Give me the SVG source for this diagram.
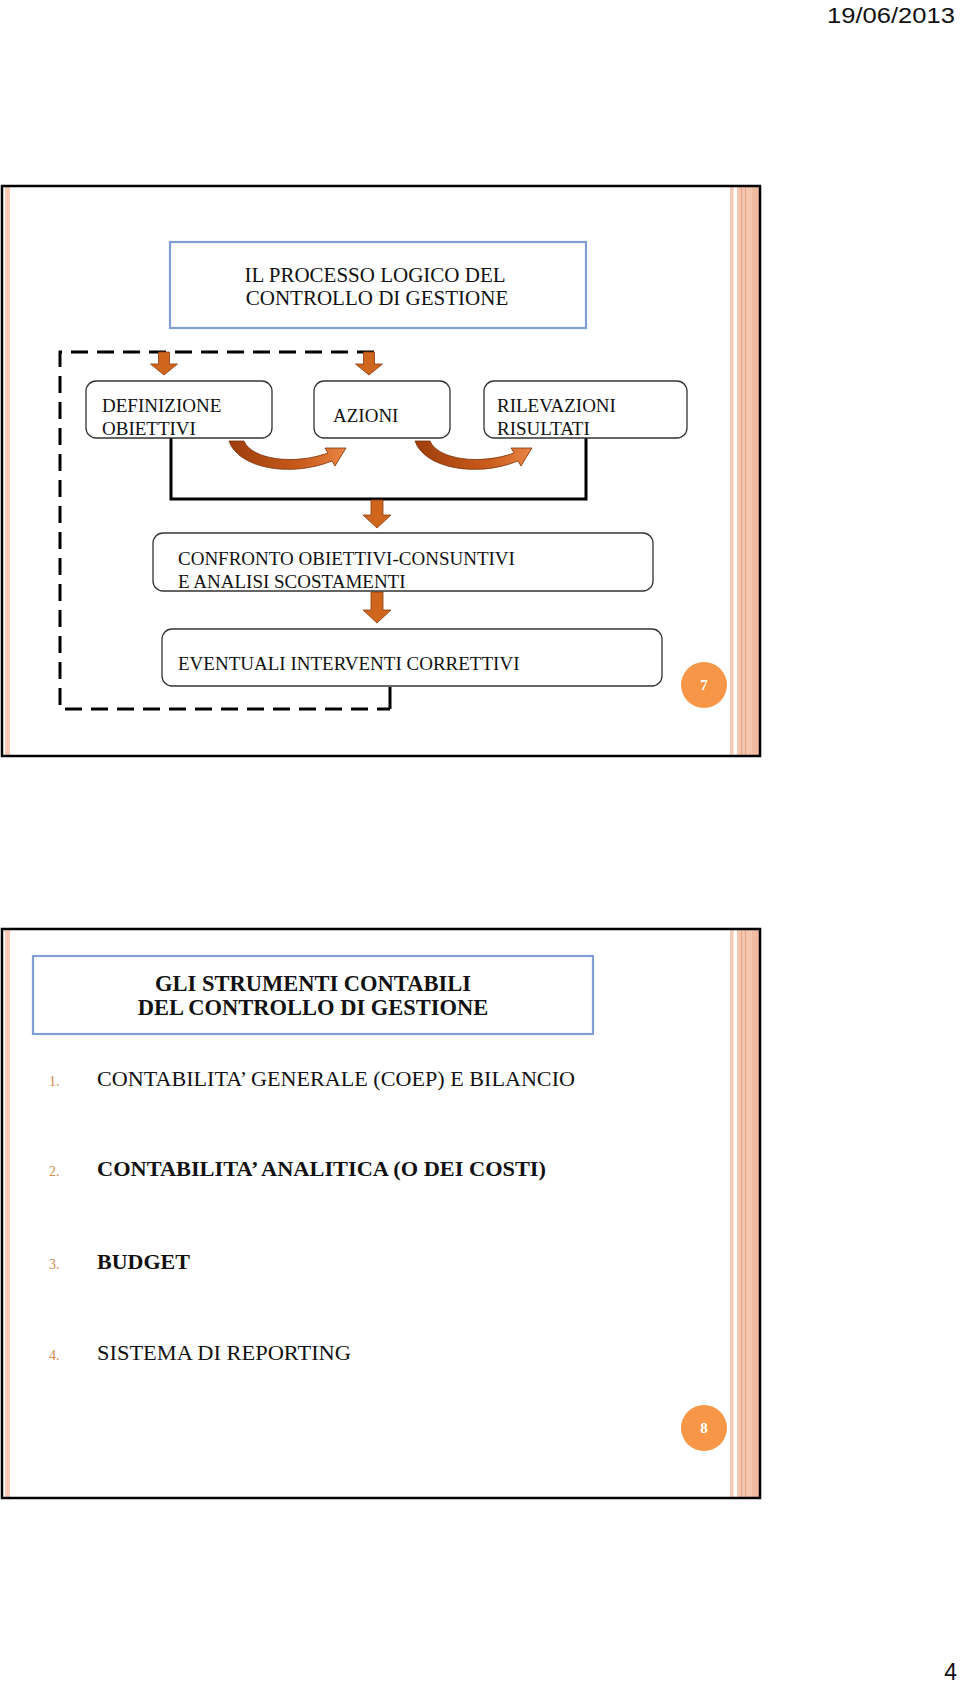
<svg xmlns="http://www.w3.org/2000/svg" width="960" height="1684" viewBox="0 0 960 1684">
<style>
.serif{font-family:"Liberation Serif","Times New Roman",serif;fill:#111}
.box{fill:#fff;stroke:#333;stroke-width:1.3}
.tbox{fill:#fff;stroke:#7F9FD5;stroke-width:2.2}
.dash{fill:none;stroke:#000;stroke-width:3;stroke-dasharray:17 9}
.solid{fill:none;stroke:#000;stroke-width:3}
.down{fill:#D0651E;stroke:#8A3A0C;stroke-width:0.8}
.curve{fill:url(#cg);stroke:#7A330B;stroke-width:0.8}
.num{font-family:"Liberation Serif",serif;font-size:15px;font-weight:bold;fill:#fff}
.li{font-family:"Liberation Serif",serif;font-size:14px;fill:#D08B4F}
.item{font-family:"Liberation Serif","Times New Roman",serif;font-size:22px;fill:#111}
</style>
<defs>
<linearGradient id="cg" x1="0" y1="0" x2="1" y2="0">
<stop offset="0" stop-color="#9E3D0C"/>
<stop offset="0.6" stop-color="#C85A1A"/>
<stop offset="1" stop-color="#E98545"/>
</linearGradient>
<g id="stripesR">
<rect x="730" y="0" width="3.5" height="100" fill="#F6CBB6"/>
<rect x="737" y="0" width="23" height="100" fill="#F5C6AE"/>
<rect x="741" y="0" width="1" height="100" fill="#E8A384"/>
<rect x="745" y="0" width="1" height="100" fill="#E8A384"/>
<rect x="752" y="0" width="8" height="100" fill="#F1BBA2"/>
</g>
</defs>
<rect width="960" height="1684" fill="#fff"/>
<text x="955" y="23" text-anchor="end" font-family="Liberation Sans,Arial,sans-serif" font-size="22" textLength="128" lengthAdjust="spacingAndGlyphs" fill="#111">19/06/2013</text>
<text x="957" y="1680" text-anchor="end" font-family="Liberation Sans,Arial,sans-serif" font-size="23" fill="#111">4</text>

<!-- Slide 1 -->
<g id="slide1">
<rect x="2" y="186" width="758" height="570" fill="#fff"/>
<rect x="5" y="187" width="5" height="568" fill="#F6CBB6"/>
<g transform="translate(0,187) scale(1,5.68)"><use href="#stripesR"/></g>
<rect x="2" y="186" width="758" height="570" fill="none" stroke="#000" stroke-width="2.5"/>
</g>

<g id="connectors">
<path class="dash" d="M374,352 H60 V709 H390"/>
<path class="solid" d="M390,709 V687" stroke-width="2.5"/>
<path class="solid" d="M171,438 V499 H586 V438"/>
<path class="down" d="M158.5,352 h11 v12 h8 l-13.5,11 l-13.5,-11 h8 z"/>
<path class="down" d="M363.5,352 h11 v12 h8 l-13.5,11 l-13.5,-11 h8 z"/>
<path class="down" d="M371,500 h12 v15 h8 l-14,13 l-14,-13 h8 z"/>
<path class="down" d="M371,592 h12 v18 h8 l-14,13 l-14,-13 h8 z"/>
<path class="curve" d="M229,441 L244,441 C252,460 295,465 328,453 L325,448 L346,448 L335,466 L332,461 C290,478 238,468 229,441 Z"/>
<path class="curve" transform="translate(186,0)" d="M229,441 L244,441 C252,460 295,465 328,453 L325,448 L346,448 L335,466 L332,461 C290,478 238,468 229,441 Z"/>
</g>

<g id="title1">
<rect class="tbox" x="170" y="242" width="416" height="86"/>
<text class="serif" x="375" y="282" font-size="21" text-anchor="middle">IL PROCESSO LOGICO DEL</text>
<text class="serif" x="377" y="305" font-size="21" text-anchor="middle">CONTROLLO DI GESTIONE</text>
</g>
<g id="definizione">
<rect class="box" x="86" y="381" width="186" height="57" rx="10"/>
<text class="serif" x="102" y="412" font-size="19">DEFINIZIONE</text>
<text class="serif" x="102" y="435" font-size="19">OBIETTIVI</text>
</g>
<g id="azioni">
<rect class="box" x="314" y="381" width="136" height="57" rx="10"/>
<text class="serif" x="333" y="422" font-size="19">AZIONI</text>
</g>
<g id="rilevazioni">
<rect class="box" x="484" y="381" width="203" height="57" rx="10"/>
<text class="serif" x="497" y="412" font-size="19">RILEVAZIONI</text>
<text class="serif" x="497" y="435" font-size="19">RISULTATI</text>
</g>
<g id="confronto">
<rect class="box" x="153" y="533" width="500" height="58" rx="10"/>
<text class="serif" x="178" y="565" font-size="19">CONFRONTO OBIETTIVI-CONSUNTIVI</text>
<text class="serif" x="178" y="588" font-size="19">E ANALISI SCOSTAMENTI</text>
</g>
<g id="eventuali">
<rect class="box" x="162" y="629" width="500" height="57" rx="10"/>
<text class="serif" x="178" y="670" font-size="19">EVENTUALI INTERVENTI CORRETTIVI</text>
</g>
<g id="page7">
<circle cx="704" cy="685" r="23" fill="#F79646"/>
<text class="num" x="704" y="690" text-anchor="middle">7</text>
</g>

<!-- Slide 2 -->
<g id="slide2">
<rect x="2" y="929" width="758" height="569" fill="#fff"/>
<rect x="5" y="930" width="5" height="567" fill="#F6CBB6"/>
<g transform="translate(0,930) scale(1,5.67)"><use href="#stripesR"/></g>
<rect x="2" y="929" width="758" height="569" fill="none" stroke="#000" stroke-width="2.5"/>
</g>
<g id="title2">
<rect class="tbox" x="33" y="956" width="560" height="78"/>
<text class="serif" x="313" y="991" font-size="22.5" font-weight="bold" text-anchor="middle">GLI STRUMENTI CONTABILI</text>
<text class="serif" x="313" y="1015" font-size="22.5" font-weight="bold" text-anchor="middle">DEL CONTROLLO DI GESTIONE</text>
</g>
<g id="list">
<text class="li" x="49" y="1086">1.</text>
<text class="item" x="97" y="1086" textLength="478" lengthAdjust="spacingAndGlyphs">CONTABILITA’ GENERALE (COEP) E BILANCIO</text>
<text class="li" x="49" y="1176">2.</text>
<text class="item" x="97" y="1176" font-weight="bold" textLength="449" lengthAdjust="spacingAndGlyphs">CONTABILITA’ ANALITICA (O DEI COSTI)</text>
<text class="li" x="49" y="1269">3.</text>
<text class="item" x="97" y="1269" font-weight="bold">BUDGET</text>
<text class="li" x="49" y="1360">4.</text>
<text class="item" x="97" y="1360" textLength="254" lengthAdjust="spacingAndGlyphs">SISTEMA DI REPORTING</text>
</g>
<g id="page8">
<circle cx="704" cy="1428" r="23" fill="#F79646"/>
<text class="num" x="704" y="1433" text-anchor="middle">8</text>
</g>
</svg>
